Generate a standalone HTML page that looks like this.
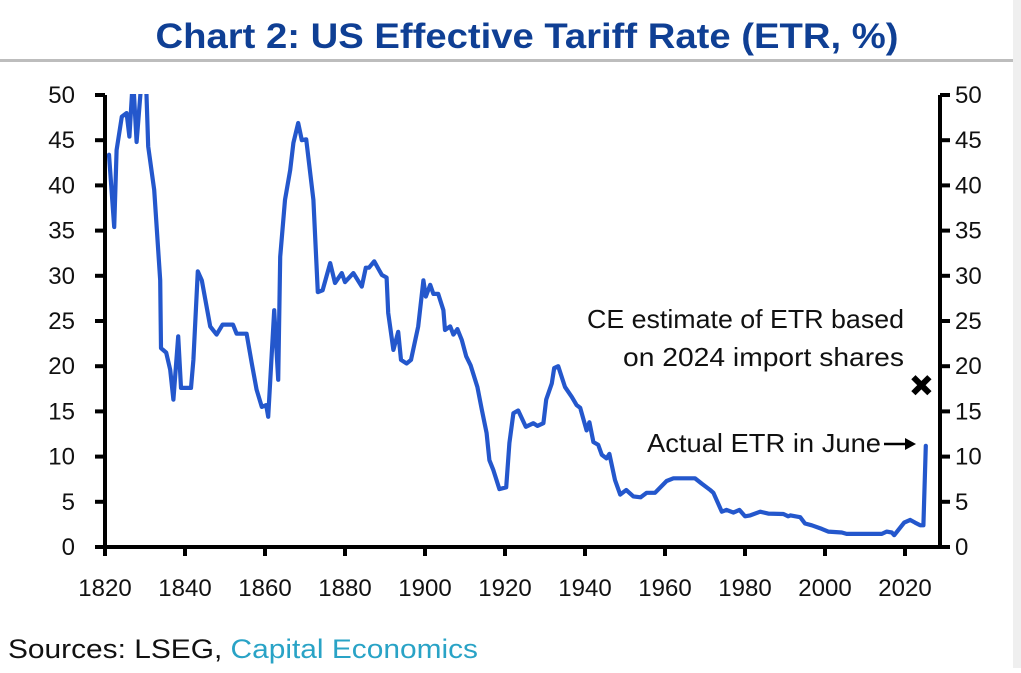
<!DOCTYPE html>
<html><head><meta charset="utf-8">
<style>
html,body{margin:0;padding:0;background:#fff;}
body{width:1021px;height:668px;overflow:hidden;position:relative;font-family:"Liberation Sans",sans-serif;}
svg text{font-family:"Liberation Sans",sans-serif;}
</style></head>
<body>
<svg id="chart" width="1021" height="668" viewBox="0 0 1021 668" xmlns="http://www.w3.org/2000/svg">
  <rect x="1013" y="0" width="8" height="668" fill="#efefef"/>
  <text x="527" y="48" text-anchor="middle" font-size="35" font-weight="bold" fill="#0f3f94" textLength="743" lengthAdjust="spacingAndGlyphs">Chart 2: US Effective Tariff Rate (ETR, %)</text>
  <rect x="0" y="59" width="1013" height="3" fill="#bdbdbd"/>
  <defs><clipPath id="plotclip"><rect x="105" y="94" width="835" height="460"/></clipPath></defs>
  <g id="axes"></g>
  <g id="series" clip-path="url(#plotclip)"></g>
  <text x="904" y="328" text-anchor="end" font-size="26" fill="#111" textLength="317" lengthAdjust="spacingAndGlyphs">CE estimate of ETR based</text>
  <text x="904" y="366" text-anchor="end" font-size="26" fill="#111" textLength="281" lengthAdjust="spacingAndGlyphs">on 2024 import shares</text>
  <text x="881" y="452" text-anchor="end" font-size="26" fill="#111" textLength="234" lengthAdjust="spacingAndGlyphs">Actual ETR in June</text>
  <g>
    <line x1="884" y1="444" x2="907" y2="444" stroke="#000" stroke-width="2.5"/>
    <polygon points="916,444 905,438 905,450" fill="#000"/>
  </g>
  <text x="8" y="658" font-size="27" fill="#111" textLength="470" lengthAdjust="spacingAndGlyphs">Sources: LSEG, <tspan fill="#29a3c6">Capital Economics</tspan></text>
</svg>
<script>
const years = [1821,1822.3,1822.9,1824.2,1825.4,1826.1,1827,1827.9,1829.2,1830,1830.8,1832.3,1833.8,1834,1835.3,1836.3,1837.1,1838.3,1839,1841.5,1842.1,1843.2,1844.2,1846.3,1847.9,1849.4,1852,1852.9,1855.4,1856.7,1857.9,1859.2,1860.3,1860.8,1862.3,1863.3,1863.8,1865,1866.3,1867.1,1868.3,1869.2,1870.3,1872.1,1873.2,1874.4,1876.3,1877.5,1879.2,1880,1882.1,1884.2,1885.2,1886,1887.3,1889.2,1890.4,1890.8,1892.1,1893.3,1894,1895.4,1896.5,1898.3,1899.6,1900.2,1901.3,1902.1,1903.3,1904.6,1905,1906.3,1907.1,1908.1,1909.2,1910.3,1911.4,1913.1,1914.2,1915.4,1916.1,1917.1,1918.6,1920.3,1921.1,1922.1,1923.3,1925.2,1927.1,1928.1,1929.6,1930.3,1931.7,1932.3,1933.3,1935,1936.7,1937.9,1938.8,1940.4,1941.1,1942.1,1943.3,1944.2,1945.4,1946.1,1947.5,1948.8,1950.3,1952.1,1953.9,1955.4,1957.5,1960.4,1962.1,1967.5,1969.2,1971.3,1972.1,1974.2,1975.4,1977.1,1978.6,1980,1981.3,1983.8,1985.8,1989.6,1990.8,1991.4,1993.8,1995,1996.7,1999.2,2000.8,2004.2,2005.4,2014.2,2015.4,2016.7,2017.3,2019.8,2021.3,2022.5,2023.8,2024.6,2025.2];
const etr = [43.4,35.4,43.9,47.6,48,45.4,52,44.8,52,55,44.3,39.5,29.5,22,21.5,19.6,16.3,23.3,17.6,17.6,20.7,30.5,29.5,24.4,23.5,24.6,24.6,23.6,23.6,20.3,17.4,15.5,15.7,14.4,26.2,18.5,32.1,38.4,41.7,44.7,46.9,45,45.1,38.4,28.2,28.4,31.4,29.2,30.3,29.3,30.3,28.8,30.9,30.9,31.6,30.1,29.8,25.9,21.8,23.8,20.7,20.3,20.7,24.4,29.5,27.7,29,28,28,26.2,24,24.4,23.5,24.1,22.9,21.1,20.1,17.7,15.2,12.6,9.6,8.5,6.4,6.6,11.5,14.8,15.1,13.3,13.7,13.4,13.7,16.3,18.1,19.8,20,17.7,16.6,15.7,15.4,12.9,13.8,11.6,11.3,10.2,9.8,10.3,7.4,5.8,6.3,5.6,5.5,6,6,7.3,7.6,7.6,7,6.3,6,3.9,4.1,3.8,4.1,3.4,3.5,3.9,3.7,3.65,3.4,3.5,3.3,2.6,2.4,2,1.7,1.6,1.45,1.45,1.7,1.6,1.3,2.7,3,2.7,2.4,2.4,11.2];
const estimateYear = [2024.1];
const estimateValue = [17.9];
const yTicks = [0,5,10,15,20,25,30,35,40,45,50];
const xTicks = [1820,1840,1860,1880,1900,1920,1940,1960,1980,2000,2020];

const X0=105, X1=940, Y0=547, Y1=95;
function xs(yr){return X0+(yr-1820)*4.0;}
function ys(v){return Y0-(v/50)*(Y0-Y1);}
const NS='http://www.w3.org/2000/svg';
function mk(tag,attrs,parent){const e=document.createElementNS(NS,tag);for(const k in attrs)e.setAttribute(k,attrs[k]);parent.appendChild(e);return e;}
const axes=document.getElementById('axes');
const series=document.getElementById('series');

let e=mk('line',{x1:X0,y1:Y1,x2:X0,y2:Y0+1,stroke:'#000','stroke-width':4},axes);


e=mk('line',{x1:X1,y1:Y1,x2:X1,y2:Y0+1,stroke:'#000','stroke-width':4},axes);


e=mk('line',{x1:X0-2,y1:Y0,x2:X1+2,y2:Y0,stroke:'#000','stroke-width':4},axes);



yTicks.forEach(v=>{
  const y=ys(v);
  let t=mk('line',{x1:X0-10,y1:y,x2:X0,y2:y,stroke:'#000','stroke-width':4},axes);
  
  
  t=mk('line',{x1:X1,y1:y,x2:X1+10,y2:y,stroke:'#000','stroke-width':4},axes);
  
  
  let l=mk('text',{x:75,y:y+8,'text-anchor':'end','font-size':24,fill:'#111'},axes);
  l.textContent=v;
  
  
  l=mk('text',{x:955,y:y+8,'text-anchor':'start','font-size':24,fill:'#111'},axes);
  l.textContent=v;
  
  
});
xTicks.forEach(yr=>{
  const x=xs(yr);
  let t=mk('line',{x1:x,y1:Y0,x2:x,y2:Y0+9,stroke:'#000','stroke-width':4},axes);
  
  
  let l=mk('text',{x:x,y:596,'text-anchor':'middle','font-size':24,fill:'#111'},axes);
  l.textContent=yr;
  
  
});

let d='';
years.forEach((yr,i)=>{d+=(i?'L':'M')+xs(yr).toFixed(1)+','+ys(etr[i]).toFixed(1);});
let p=mk('path',{d:d,fill:'none',stroke:'#2457cc','stroke-width':4.2,'stroke-linejoin':'round','stroke-linecap':'round'},series);



estimateYear.forEach((yr,i)=>{
  const cx=xs(yr), cy=ys(estimateValue[i]);
  const g=mk('g',{},document.getElementById('chart'));
  
  
  mk('line',{x1:cx-8,y1:cy-8,x2:cx+8,y2:cy+8,stroke:'#000','stroke-width':6},g);
  mk('line',{x1:cx-8,y1:cy+8,x2:cx+8,y2:cy-8,stroke:'#000','stroke-width':6},g);
});
</script>
</body></html>
